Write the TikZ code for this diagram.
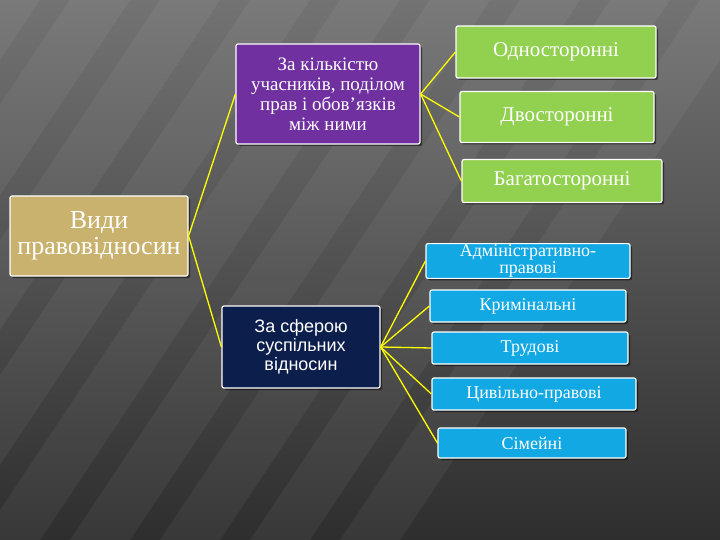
\documentclass[tikz,border=0pt]{standalone}
\usepackage{fontspec}
\setmainfont{Liberation Serif}
\newfontfamily\sfx{Liberation Sans}
\usetikzlibrary{shadows}
\definecolor{tan}{HTML}{C9B26E}
\definecolor{purp}{HTML}{7030A0}
\definecolor{grn}{HTML}{92D050}
\definecolor{navy}{HTML}{0C1E4C}
\definecolor{sky}{HTML}{12A8E4}
\definecolor{yel}{HTML}{FFFF00}
\tikzset{
 bx/.style={draw=white,line width=1.2pt,rounded corners=2pt,text=white,align=center,inner sep=1pt,
   drop shadow={shadow xshift=2pt,shadow yshift=-2pt,fill=black,opacity=0.5}},
 con/.style={yel,line width=1.3pt}
}
\begin{document}
\begin{tikzpicture}[x=1pt,y=-1pt]
\useasboundingbox (0,0) rectangle (720,540);
\shade[top color=black!55,bottom color=black!82] (0,0) rectangle (720,540);
\foreach \a in {0,90,180,...,900}{
  \fill[white,opacity=0.05] (\a-200,0) -- (\a-140,0) -- (\a-500,540) -- (\a-560,540) -- cycle;
}
\node[bx,fill=tan,minimum width=178pt,minimum height=80pt,font=\fontsize{26}{26}\selectfont] (root) at (99,236) {Види\\правовідносин};
\node[bx,fill=purp,minimum width=184pt,minimum height=100pt,font=\fontsize{19}{20}\selectfont] (p) at (328,94) {За кількістю\\учасників, поділом\\прав і обов’язків\\між ними};
\node[bx,fill=navy,minimum width=158pt,minimum height=82pt,font=\sfx\fontsize{18}{19}\selectfont] (n) at (301,347) {За сферою\\суспільних\\відносин};
\tikzset{g/.style={bx,fill=grn,font=\fontsize{21}{22}\selectfont},b/.style={bx,fill=sky,font=\fontsize{18}{17}\selectfont}}
\node[g,minimum width=200pt,minimum height=52pt] (g1) at (556,52) {Односторонні};
\node[g,minimum width=194pt,minimum height=51pt] (g2) at (557,117) {Двосторонні};
\node[g,minimum width=200pt,minimum height=43pt] (g3) at (562,181) {Багатосторонні};
\node[b,minimum width=204pt,minimum height=34pt] (b1) at (528,261) {Адміністративно-\\правові};
\node[b,minimum width=196pt,minimum height=32pt] (b2) at (528,306) {Кримінальні};
\node[b,minimum width=196pt,minimum height=32pt] (b3) at (530,348) {Трудові};
\node[b,minimum width=204pt,minimum height=32pt] (b4) at (534,394) {Цивільно-правові};
\node[b,minimum width=188pt,minimum height=30pt] (b5) at (532,443) {Сімейні};
\draw[con] (root.east) -- (p.west);
\draw[con] (root.east) -- (n.west);
\foreach \t in {g1,g2,g3} \draw[con] (p.east) -- (\t.west);
\foreach \t in {b1,b2,b3,b4,b5} \draw[con] (n.east) -- (\t.west);
\end{tikzpicture}
\end{document}
